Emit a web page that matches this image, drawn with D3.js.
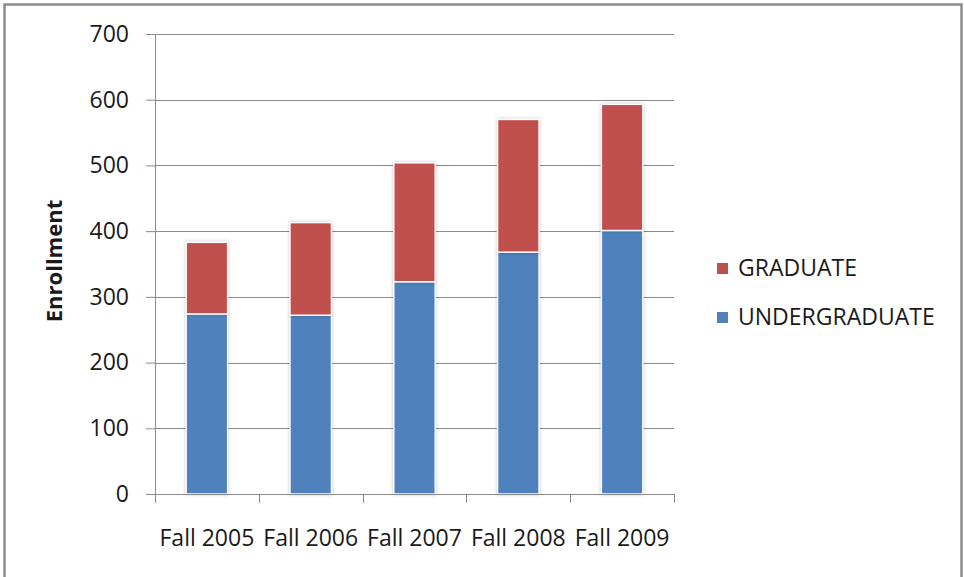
<!DOCTYPE html>
<html>
<head>
<meta charset="utf-8">
<script src="https://cdn.jsdelivr.net/npm/d3@7"></script>
<style>
  body { margin: 0; background: #fff; }
  text { font-family: "Open Sans", "Noto Sans", sans-serif; fill: #1a1a1a; }
</style>
</head>
<body>
<div id="chart"></div>
<script>
// Data
var terms = ["Fall 2005", "Fall 2006", "Fall 2007", "Fall 2008", "Fall 2009"]
var undergraduate = [274, 272, 323, 368, 401]
var graduate = [109, 141, 181, 202, 192]
var yTicks = [0, 100, 200, 300, 400, 500, 600, 700]
var seriesNames = ["UNDERGRADUATE", "GRADUATE"]
var seriesColors = ["#4F81BD", "#C0504D"]

var svgWidth = 964
var svgHeight = 577

var margin = { top: 34, left: 155, right: 290, bottom: 83 }
var width = svgWidth - margin.left - margin.right
var height = svgHeight - margin.top - margin.bottom

var svg = d3.select("#chart")
  .append("svg")
  .attr("width", svgWidth)
  .attr("height", svgHeight)

// outer frame
svg.append("rect")
  .attr("x", 4.5)
  .attr("y", 4.5)
  .attr("width", 957)
  .attr("height", 600)
  .attr("fill", "#fff")
  .attr("stroke", "#8c8c8c")
  .attr("stroke-width", 2.5)

var chartGroup = svg.append("g")
  .attr("transform", `translate(${margin.left}, ${margin.top})`)

// build stacked table
var table = terms.map(function(t, i) {
  return { term: t, UNDERGRADUATE: undergraduate[i], GRADUATE: graduate[i] }
})
var stacked = d3.stack().keys(seriesNames)(table)

var xScale = d3.scaleBand()
  .domain(terms)
  .range([0, width])
  .paddingInner(0.6)
  .paddingOuter(0.3)

var yScale = d3.scaleLinear()
  .domain([0, 700])
  .range([height, 0])

// gridlines
chartGroup.append("g")
  .selectAll("line")
  .data(yTicks.filter(d => d > 0))
  .enter()
  .append("line")
  .attr("x1", 0)
  .attr("x2", width)
  .attr("y1", d => Math.round(yScale(d)) + 0.5)
  .attr("y2", d => Math.round(yScale(d)) + 0.5)
  .attr("stroke", "#8a8a8a")
  .attr("stroke-width", 1)

// bars
var layers = chartGroup.selectAll(".layer")
  .data(stacked)
  .enter()
  .append("g")
  .attr("fill", (d, i) => seriesColors[i])

layers.selectAll("rect")
  .data(d => d)
  .enter()
  .append("rect")
  .attr("x", d => xScale(d.data.term))
  .attr("y", d => yScale(d[1]))
  .attr("width", xScale.bandwidth())
  .attr("height", d => yScale(d[0]) - yScale(d[1]))
  .attr("stroke", "#fff")
  .attr("stroke-width", 1.5)
  .style("filter", "drop-shadow(0px 0px 1.5px rgba(0,0,0,0.25))")

// y axis
var leftAxis = d3.axisLeft(yScale)
  .tickValues(yTicks)
  .tickSize(9)
  .tickPadding(17)

var yAxis = chartGroup.append("g")
  .call(leftAxis)
yAxis.select(".domain").attr("stroke", "#8a8a8a").attr("d", `M0.5,0V${height}`)
yAxis.selectAll(".tick line").attr("stroke", "#8a8a8a")
yAxis.selectAll("text")
  .style("font-size", "23px")
  .style("font-family", "'Open Sans', sans-serif")
  .attr("fill", "#1a1a1a")

// x axis
var bottomAxis = d3.axisBottom(xScale).tickSize(0).tickPadding(36)
var xAxis = chartGroup.append("g")
  .attr("transform", `translate(0, ${height})`)
  .call(bottomAxis)
xAxis.select(".domain").attr("stroke", "#8a8a8a").attr("d", `M-9,0.5H${width}`)
xAxis.selectAll("text")
  .style("font-size", "23px")
  .style("font-family", "'Open Sans', sans-serif")
  .attr("fill", "#1a1a1a")

// category separator ticks
var sepScale = d3.scaleLinear().domain([0, terms.length]).range([0, width])
xAxis.append("g")
  .selectAll("line")
  .data(d3.range(terms.length + 1))
  .enter()
  .append("line")
  .attr("x1", d => Math.round(sepScale(d)) + 0.5)
  .attr("x2", d => Math.round(sepScale(d)) + 0.5)
  .attr("y1", 0)
  .attr("y2", 9)
  .attr("stroke", "#8a8a8a")

// y axis label
chartGroup.append("text")
  .attr("transform", `translate(${-93}, ${height / 2 - 3}) rotate(-90)`)
  .attr("text-anchor", "middle")
  .style("font-size", "22px")
  .style("font-weight", "bold")
  .text("Enrollment")

// legend
var legendData = [
  { name: "GRADUATE", color: seriesColors[1], y: 268 },
  { name: "UNDERGRADUATE", color: seriesColors[0], y: 317 }
]
var legend = svg.append("g")
var legendItem = legend.selectAll("g")
  .data(legendData)
  .enter()
  .append("g")
  .attr("transform", d => `translate(717, ${d.y})`)

legendItem.append("rect")
  .attr("x", 0)
  .attr("y", -5)
  .attr("width", 11)
  .attr("height", 11)
  .attr("fill", d => d.color)

legendItem.append("text")
  .attr("x", 21)
  .attr("y", 8)
  .style("font-size", "23px")
  .text(d => d.name)
</script>
</body>
</html>
